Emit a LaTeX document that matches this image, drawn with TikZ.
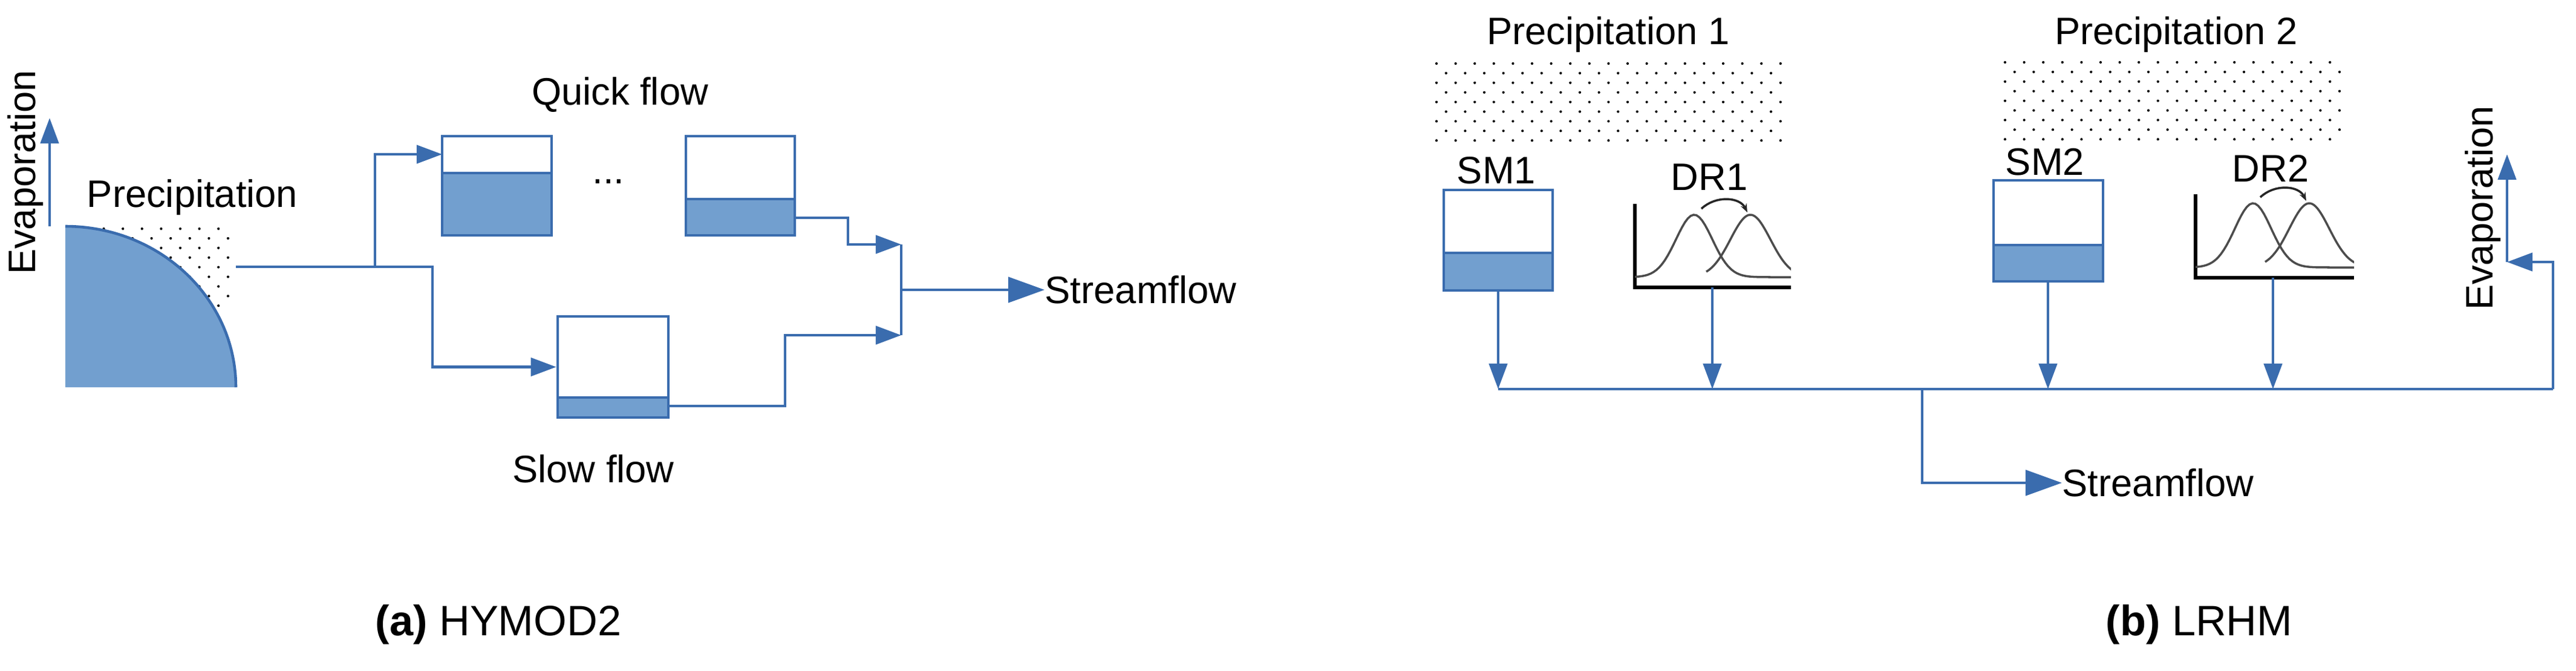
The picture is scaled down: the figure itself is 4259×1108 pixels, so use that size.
\documentclass[tikz,border=0pt]{standalone}
\usepackage{fontspec}
\setmainfont{Liberation Sans}
\usetikzlibrary{arrows.meta,fit}
\definecolor{bl}{HTML}{3A6CAE}
\definecolor{fl}{HTML}{729FCF}
\newcommand\mytank[6]{%
  \fill[fl] (#2,#6) rectangle (#4,#5);
  \draw[bl,line width=1.3pt] (#2,#6) -- (#4,#6);
  \node[draw=bl,line width=1.3pt,inner sep=0pt,fit={(#2,#3)(#4,#5)}] (#1) {};}
\newcommand\mydots[4]{% x1,y1,x2,y2
  \foreach \r in {0,...,8}{%
    \pgfmathsetmacro\yy{#2+\r*15.9}
    \pgfmathsetmacro\off{mod(\r,2)*15.8}
    \foreach \c in {0,...,30}{%
      \pgfmathsetmacro\xx{#1+\off+\c*31.6}
      \pgfmathparse{\xx<=#3?1:0}
      \ifnum\pgfmathresult=1 \fill (\xx,\yy) circle (0.6pt);\fi}}}
\newcommand\mydr[8]{% name,x0,ytop,ybot,xr,base,peak,mu1
  \draw[line width=1.5pt] (#2,#3) -- (#2,#4) -- (#5,#4);
  \begin{scope}
  \clip (#2,#3-10) rectangle (#5,#4);
  \begin{scope}[shift={(#8,#6)}]
  \draw[gray!60!black,line width=1pt] plot[domain=-110:170,samples=60] (\x,{-(#6-#7)*exp(-0.5*(\x/30)^2)});
  \draw[gray!60!black,line width=1pt] plot[domain=20:170,samples=60] (\x,{-(#6-#7)*exp(-0.5*((\x-93)/33)^2)});
  \end{scope}
  \end{scope}
  \draw[gray!30!black,line width=1pt,-{Stealth[length=0.14cm]}] (#8+12,#7-10) .. controls (#8+35,#7-32) and (#8+75,#7-30) .. (#8+88,#7-4);
  \node[inner sep=0pt,fit={(#2,#3)(#5,#4)}] (#1) {};}
\begin{document}
\begin{tikzpicture}[x=0.01cm,y=-0.01cm,
  txt/.style={font=\fontsize{18}{20}\selectfont,inner sep=0pt},
  conn/.style={draw=bl,line width=1.3pt},
  arr/.style={conn,-{Triangle[length=0.42cm,width=0.3cm]}},
  bigarr/.style={conn,-{Triangle[length=0.6cm,width=0.42cm]}}]
\useasboundingbox (0,0) rectangle (4259,1108);
% ---------- (a) HYMOD2 ----------
\mydots{140}{378}{385}{500}
\fill[fl] (108,374) arc[start angle=270,end angle=360,x radius=282,y radius=266] -- (108,640) -- cycle;
\draw[bl,line width=1.3pt] (108,374) arc[start angle=270,end angle=360,x radius=282,y radius=266];
\coordinate (pout) at (390,441);
\node[txt,rotate=90] (evapA) at (42,285) {Evaporation};
\coordinate (ea) at (82,374);
\coordinate (eb) at (82,195);
\draw[arr] (ea) -- (eb);
\node[txt] (precA) at (318,326) {Precipitation};
\mytank{q1}{731}{225}{912}{389}{286}
\mytank{q2}{1134}{225}{1314}{389}{329}
\mytank{s1}{922}{523}{1105}{690}{657}
\node[txt] (dots) at (1006,300) {...};
\node[txt] (quick) at (1025,157) {Quick flow};
\node[txt] (slow) at (981,775) {Slow flow};
\coordinate (j) at (1490,479);
\draw[arr] (pout) -- (620,441) |- (731,255);
\draw[arr] (620,441) -- (715,441) |- (s1.west);
\draw[arr] (1314,360) -- (1402,360) |- (1490,404);
\draw[arr] (1106,671) -- (1298,671) |- (1490,554);
\draw[conn] (1490,404) -- (1490,554);
\node[txt,anchor=west] (sfA) at (1727,479) {Streamflow};
\draw[bigarr] (j) -- (sfA.west);
\node[font=\fontsize{20}{22}\selectfont,inner sep=0pt] (capA) at (824,1032) {\textbf{(a)} HYMOD2};
% ---------- (b) LRHM ----------
\node[txt] (p1) at (2659,57) {Precipitation 1};
\node[txt] (p2) at (3598,57) {Precipitation 2};
\mydots{2375}{105}{2944}{232}
\mydots{3315}{103}{3882}{232}
\node[txt] (sm1l) at (2474,282) {SM1};
\node[txt] (sm2l) at (3381,268) {SM2};
\node[txt] (dr1l) at (2826,293) {DR1};
\node[txt] (dr2l) at (3754,278) {DR2};
\mytank{sm1}{2387}{314}{2567}{480}{418}
\mytank{sm2}{3296}{298}{3477}{465}{405}
\mydr{dr1}{2703}{337}{475}{2961}{458}{355}{2801}
\mydr{dr2}{3630}{321}{459}{3892}{442}{336}{3725}
\coordinate (b1) at (2477,643);
\coordinate (b2) at (2831,643);
\coordinate (b3) at (3386,643);
\coordinate (b4) at (3758,643);
\coordinate (bj) at (3178,643);
\coordinate (br) at (4221,643);
\draw[conn] (b1) -- (br);
\draw[arr] (2477,480) -- (b1);
\draw[arr] (2831,475) -- (b2);
\draw[arr] (3386,465) -- (b3);
\draw[arr] (3758,459) -- (b4);
\node[txt,anchor=west] (sfB) at (3409,798) {Streamflow};
\draw[bigarr] (bj) |- (sfB.west);
\coordinate (ev) at (4145,433);
\draw[arr] (br) |- (ev);
\draw[arr] (ev) -- (4145,255);
\node[txt,rotate=90] (evapB) at (4105,344) {Evaporation};
\node[font=\fontsize{20}{22}\selectfont,inner sep=0pt] (capB) at (3636,1032) {\textbf{(b)} LRHM};
\end{tikzpicture}
\end{document}
